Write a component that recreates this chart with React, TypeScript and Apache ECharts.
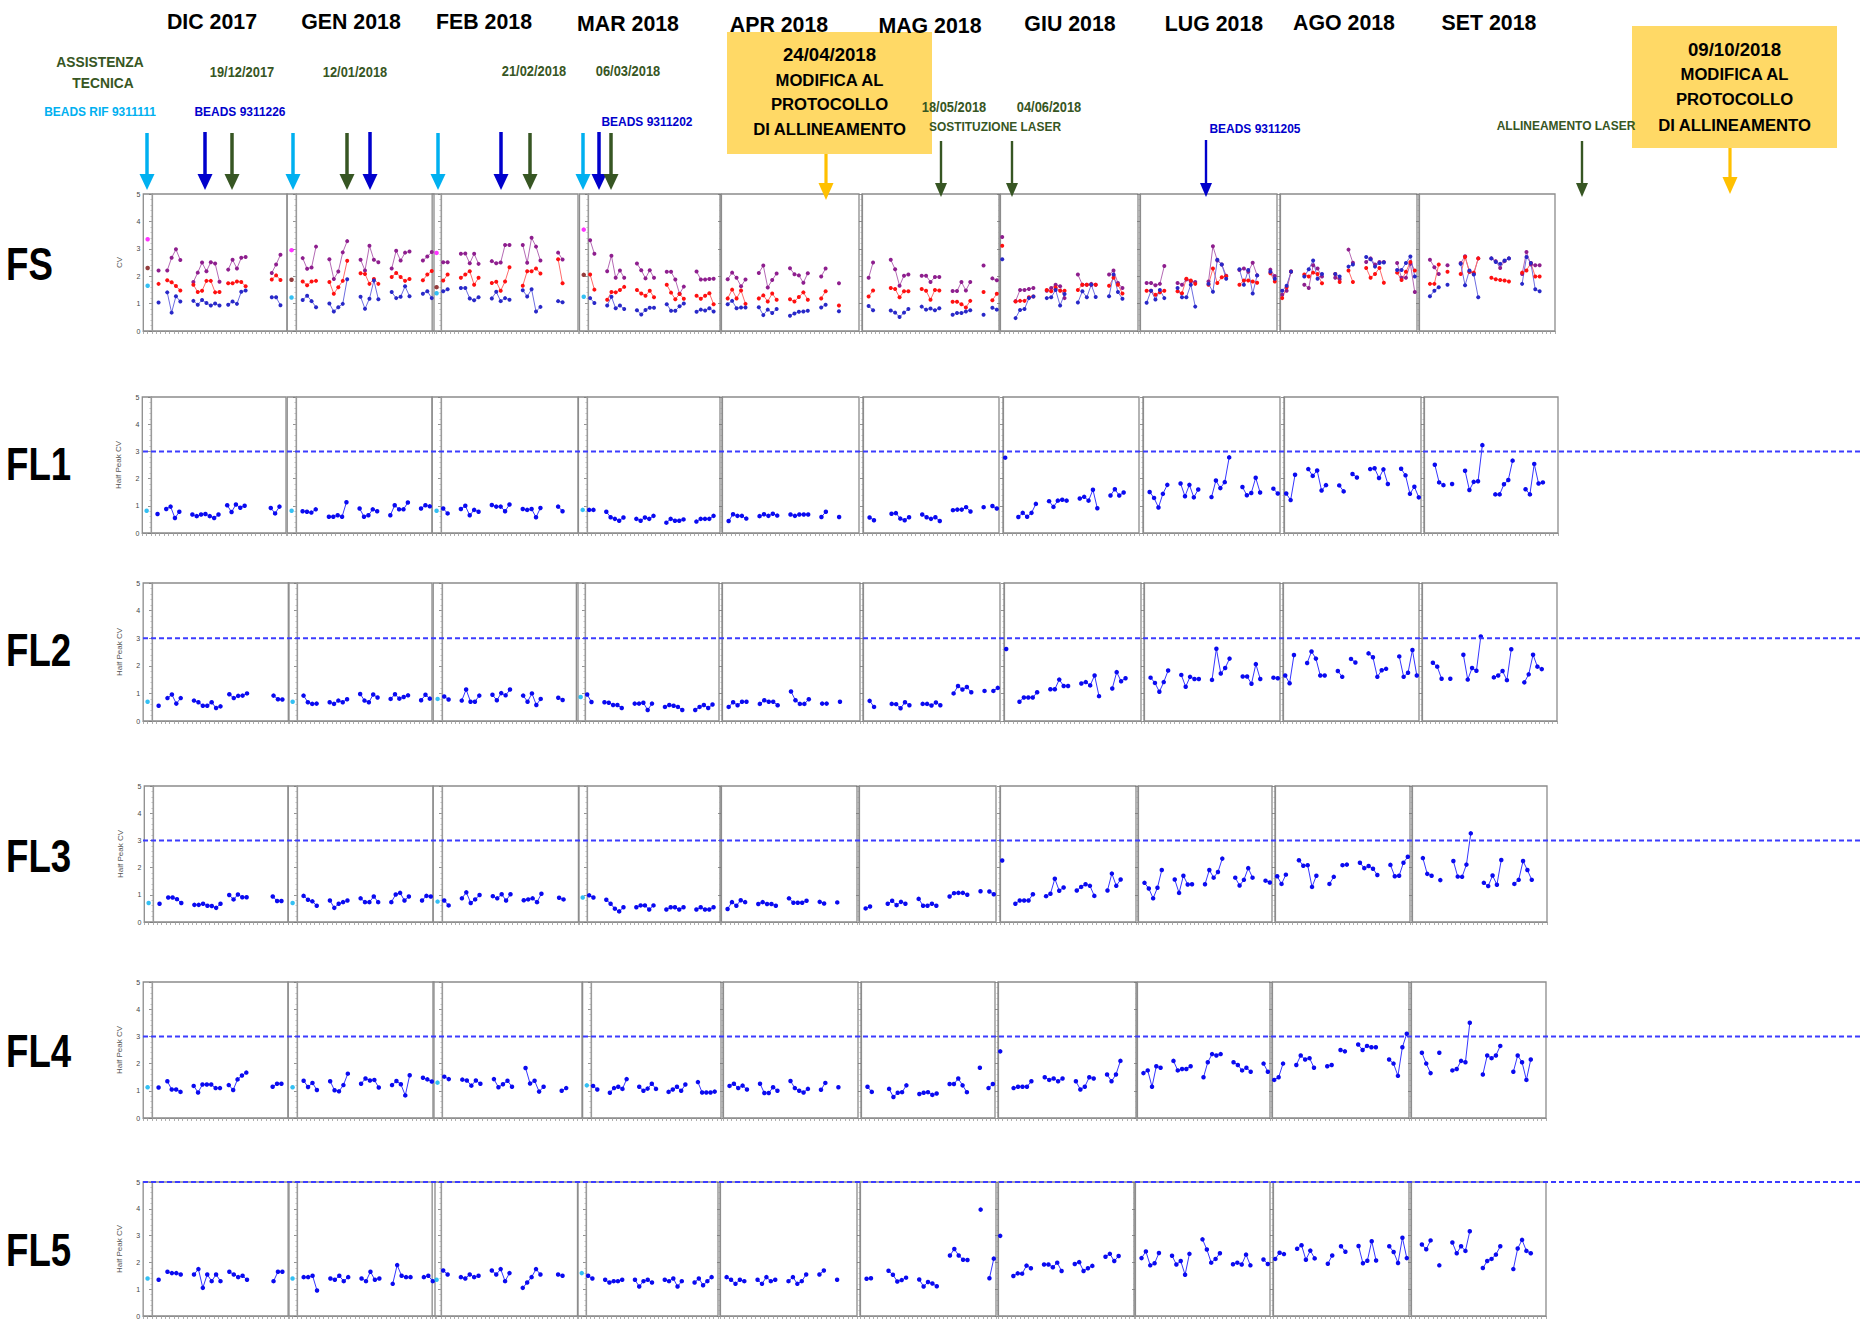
import React, { useEffect, useRef } from 'react';
import * as echarts from 'echarts';

const FONT = "'Liberation Sans', Arial, sans-serif";

const MONTHS = ['DIC 2017', 'GEN 2018', 'FEB 2018', 'MAR 2018', 'APR 2018', 'MAG 2018', 'GIU 2018', 'LUG 2018', 'AGO 2018', 'SET 2018'];
const ROW_NAMES = ['FS', 'FL1', 'FL2', 'FL3', 'FL4', 'FL5'];

// measurement days of each month
const DAYS = [
  [2, 4, 5, 6, 7, 10, 11, 12, 13, 14, 15, 16, 18, 19, 20, 21, 22, 28, 29, 30],
  [2, 3, 4, 5, 8, 9, 10, 11, 12, 15, 16, 17, 18, 19, 22, 23, 24, 25, 26, 29, 30, 31],
  [1, 2, 5, 6, 7, 8, 9, 12, 13, 14, 15, 16, 19, 20, 21, 22, 23, 27, 28],
  [1, 2, 5, 6, 7, 8, 9, 12, 13, 14, 15, 16, 19, 20, 21, 22, 23, 26, 27, 28, 29, 30],
  [2, 3, 4, 5, 6, 9, 10, 11, 12, 13, 16, 17, 18, 19, 20, 23, 24, 27],
  [2, 3, 7, 8, 9, 10, 11, 14, 15, 16, 17, 18, 21, 22, 23, 24, 25, 28, 30, 31],
  [1, 4, 5, 6, 7, 8, 11, 12, 13, 14, 15, 18, 19, 20, 21, 22, 25, 26, 27, 28],
  [2, 3, 4, 5, 6, 9, 10, 11, 12, 13, 16, 17, 18, 19, 20, 23, 24, 25, 26, 27, 30, 31],
  [1, 2, 3, 6, 7, 8, 9, 10, 13, 14, 16, 17, 20, 21, 22, 23, 24, 27, 28, 29, 30, 31],
  [3, 4, 5, 7, 10, 11, 12, 13, 14, 17, 18, 19, 20, 21, 24, 25, 26, 27, 28],
];

// FS CV (three series)
const FS_PURPLE = [
  [2.21, 2.21, 2.67, 2.98, 2.59, 1.79, 2.13, 2.5, 2.18, 2.51, 2.46, 1.8, 2.24, 2.6, 2.28, 2.67, 2.7, 2.12, 2.43, 2.78],
  [2.66, 2.27, 2.32, 3.08, 2.62, 1.9, 2.17, 2.87, 3.28, 2.6, 2.21, 3.11, 2.6, 2.51, 2.28, 2.93, 2.57, 2.86, 2.9, 2.57, 2.72, 2.88],
  [2.51, 2.51, 2.82, 2.83, 2.47, 2.82, 2.45, 2.55, 2.47, 2.5, 3.14, 3.14, 3.14, 2.49, 3.4, 3.08, 2.57, 2.86, 2.61],
  [3.31, 2.82, 2.18, 2.75, 1.94, 2.21, 1.94, 2.46, 2.22, 1.92, 2.22, 1.94, 2.16, 2.16, 1.88, 1.36, 1.62, 2.17, 1.88, 1.88, 1.9, 1.91],
  [1.89, 2.13, 1.94, 1.63, 1.88, 2.12, 2.39, 1.59, 1.86, 2.1, 2.29, 2.07, 2.03, 1.76, 2.11, 1.99, 2.28, 1.74],
  [1.94, 2.5, 2.6, 2.25, 1.65, 2.02, 2.06, 2.02, 2.02, 1.79, 1.97, 1.97, 1.46, 1.46, 1.79, 1.48, 1.79, 2.39, 1.92, 1.85],
  [3.43, 1.09, 1.5, 1.5, 1.53, 1.57, 1.47, 1.57, 1.69, 1.63, 1.2, 2.06, 1.69, 1.69, 1.72, 1.69, 2.06, 2.21, 1.75, 1.57],
  [1.75, 1.75, 1.67, 1.72, 2.37, 1.75, 1.69, 1.88, 1.81, 1.79, 1.81, 3.09, 2.57, 2.43, 2.02, 2.23, 2.28, 2.16, 2.49, 2.03, 2.24, 2.01],
  [1.32, 1.47, 2.18, 1.69, 1.57, 2.4, 2.28, 1.99, 1.94, 1.89, 2.97, 2.49, 2.52, 2.65, 2.43, 2.52, 2.52, 2.48, 1.94, 1.94, 2.45, 1.42],
  [2.6, 2.33, 2.08, 2.4, 2.48, 2.73, 2.16, 2.08, 2.65, 2.65, 2.55, 2.3, 2.55, 2.65, 2.08, 2.88, 2.43, 2.4, 2.4],
];
const FS_RED = [
  [1.72, 1.85, 1.78, 1.64, 1.48, 1.69, 1.42, 1.47, 1.83, 1.83, 1.41, 1.42, 1.74, 1.74, 1.81, 1.79, 1.63, 1.88, 2.03, 1.86],
  [1.81, 1.67, 1.81, 1.83, 1.79, 1.36, 1.6, 1.83, 2.56, 2.11, 2.08, 1.72, 1.9, 1.72, 1.97, 2.12, 1.97, 1.83, 1.9, 1.85, 2.06, 2.19],
  [1.84, 2.06, 1.94, 2.06, 2.18, 1.69, 1.94, 1.75, 1.8, 1.47, 1.81, 2.33, 1.65, 2.18, 2.18, 2.28, 2.1, 2.62, 1.74],
  [2.06, 1.51, 1.14, 1.42, 1.41, 1.5, 1.61, 1.5, 1.37, 1.29, 1.47, 1.23, 1.69, 1.4, 1.16, 1.35, 1.18, 1.29, 1.18, 1.29, 1.38, 0.98],
  [1.19, 1.51, 1.19, 1.48, 0.99, 1.19, 1.3, 1.08, 1.37, 1.14, 1.16, 1.08, 1.24, 1.41, 1.14, 1.19, 1.45, 0.93],
  [1.26, 1.48, 1.57, 1.53, 1.23, 1.45, 1.45, 1.53, 1.47, 1.14, 1.5, 1.48, 1.07, 1.07, 0.98, 0.86, 1.1, 1.42, 1.12, 1.36],
  [3.11, 1.08, 1.1, 1.1, 1.23, 1.26, 1.5, 1.45, 1.59, 1.47, 1.47, 1.5, 1.69, 1.69, 1.69, 1.69, 1.65, 1.94, 1.69, 1.37],
  [1.47, 1.47, 1.32, 1.41, 1.47, 1.45, 1.38, 1.91, 1.84, 1.72, 1.69, 2.28, 1.75, 1.96, 2.0, 1.69, 1.84, 1.84, 1.81, 1.76, 2.11, 1.81],
  [1.2, 1.6, 2.16, 2.06, 1.99, 2.13, 2.08, 1.74, 2.08, 1.79, 2.21, 1.79, 2.3, 1.94, 2.08, 2.3, 1.76, 2.13, 1.86, 2.16, 2.52, 2.21],
  [1.72, 1.72, 2.43, 2.16, 2.08, 2.7, 2.16, 2.13, 2.65, 1.94, 1.89, 1.86, 1.84, 1.81, 2.13, 2.21, 2.48, 1.99, 1.99],
];
const FS_BLUE = [
  [1.04, 1.41, 0.67, 1.27, 1.08, 1.1, 0.96, 1.13, 1.02, 0.93, 1.0, 0.93, 0.96, 1.08, 0.99, 1.43, 1.48, 1.23, 1.23, 0.94],
  [1.13, 1.29, 1.09, 0.87, 1.0, 0.71, 0.87, 0.99, 1.89, 1.25, 0.81, 1.18, 1.84, 1.16, 1.42, 1.2, 1.25, 1.63, 1.27, 1.36, 1.45, 1.2],
  [1.45, 1.52, 1.57, 1.57, 1.19, 1.12, 1.23, 1.19, 1.43, 1.09, 1.2, 1.14, 1.49, 1.26, 1.52, 0.71, 0.88, 1.09, 1.05],
  [1.2, 1.02, 0.93, 1.25, 0.83, 0.93, 0.8, 0.76, 0.6, 0.77, 0.85, 0.85, 0.98, 0.74, 0.74, 0.9, 1.0, 0.7, 0.78, 0.75, 0.83, 0.71],
  [0.98, 1.1, 0.83, 0.86, 0.86, 0.87, 0.58, 0.78, 0.66, 0.8, 0.56, 0.64, 0.7, 0.71, 0.74, 0.86, 0.96, 0.72],
  [0.91, 0.76, 0.75, 0.67, 0.51, 0.67, 0.8, 0.89, 0.78, 0.82, 0.76, 0.83, 0.59, 0.66, 0.66, 0.71, 0.76, 0.59, 0.85, 0.78],
  [2.62, 0.47, 0.77, 0.8, 1.2, 1.26, 1.2, 1.23, 1.5, 0.93, 1.35, 1.04, 1.45, 1.23, 1.69, 1.24, 1.27, 2.06, 1.42, 1.18],
  [1.03, 1.47, 1.15, 1.5, 1.2, 1.57, 1.23, 1.23, 1.69, 0.89, 1.72, 1.43, 2.6, 2.43, 1.91, 2.25, 1.69, 2.23, 1.37, 2.03, 2.16, 1.91],
  [1.47, 1.65, 2.16, 1.99, 2.25, 2.57, 1.91, 2.08, 2.08, 1.99, 2.35, 2.43, 2.7, 2.62, 2.35, 2.48, 2.5, 2.23, 2.23, 2.48, 2.72, 1.99],
  [1.27, 1.47, 1.6, 1.69, 2.45, 1.67, 2.21, 2.06, 1.23, 2.65, 2.52, 2.45, 2.57, 2.65, 1.72, 2.7, 2.48, 1.52, 1.45],
];
const FS_REF_MAGENTA = [3.35, 2.95, 2.85, 3.7];
const FS_REF_BROWN = [2.3, 1.87, 1.6, 2.05];
const FS_REF_CYAN = [1.65, 1.22, 1.38, 1.25];

// Half Peak CV
const FL1 = [
  [0.7, 0.88, 0.97, 0.55, 0.78, 0.68, 0.62, 0.68, 0.7, 0.62, 0.55, 0.68, 1.02, 0.77, 1.05, 0.93, 1.0, 0.92, 0.72, 0.97],
  [0.8, 0.78, 0.75, 0.87, 0.6, 0.6, 0.65, 0.6, 1.13, 0.9, 0.6, 0.65, 0.87, 0.8, 0.65, 1.02, 0.87, 0.87, 1.12, 0.9, 1.02, 0.98],
  [0.9, 0.72, 0.88, 1.0, 0.65, 0.85, 0.78, 1.03, 0.97, 0.97, 0.8, 1.05, 0.88, 0.85, 0.88, 0.58, 0.92, 0.97, 0.8],
  [0.85, 0.85, 0.78, 0.58, 0.52, 0.45, 0.57, 0.52, 0.45, 0.57, 0.52, 0.63, 0.38, 0.52, 0.45, 0.45, 0.5, 0.42, 0.52, 0.52, 0.52, 0.63],
  [0.44, 0.69, 0.63, 0.63, 0.53, 0.62, 0.69, 0.63, 0.71, 0.64, 0.68, 0.63, 0.68, 0.68, 0.68, 0.59, 0.78, 0.59],
  [0.57, 0.47, 0.71, 0.73, 0.53, 0.47, 0.58, 0.68, 0.58, 0.52, 0.58, 0.44, 0.84, 0.86, 0.86, 0.95, 0.79, 0.95, 0.99, 0.9],
  [2.77, 0.59, 0.74, 0.6, 0.74, 1.07, 1.17, 0.96, 1.19, 1.22, 1.19, 1.27, 1.33, 1.19, 1.59, 0.91, 1.38, 1.61, 1.38, 1.49],
  [1.51, 1.29, 0.94, 1.44, 1.77, 1.82, 1.35, 1.77, 1.31, 1.6, 1.32, 1.93, 1.65, 1.87, 2.78, 1.69, 1.39, 1.47, 2.03, 1.49, 1.63, 1.45],
  [1.45, 1.21, 2.14, 2.35, 2.1, 2.3, 1.56, 1.76, 1.75, 1.53, 2.17, 2.04, 2.35, 2.38, 2.02, 2.34, 1.8, 2.36, 2.12, 1.44, 1.7, 1.31],
  [2.51, 1.86, 1.76, 1.8, 2.29, 1.58, 1.88, 1.9, 3.23, 1.42, 1.42, 1.79, 1.95, 2.66, 1.61, 1.42, 2.54, 1.82, 1.86],
];
const FL2 = [
  [0.55, 0.83, 0.96, 0.63, 0.83, 0.74, 0.68, 0.55, 0.55, 0.68, 0.47, 0.53, 0.97, 0.83, 0.91, 0.92, 1.0, 0.92, 0.79, 0.78],
  [0.92, 0.68, 0.62, 0.63, 0.68, 0.62, 0.74, 0.68, 0.79, 0.98, 0.74, 0.68, 0.96, 0.85, 0.8, 0.97, 0.81, 0.87, 0.93, 0.75, 0.95, 0.81],
  [0.89, 0.78, 0.74, 1.14, 0.7, 0.7, 0.92, 0.95, 0.75, 1.01, 0.93, 1.14, 0.92, 0.7, 1.0, 0.58, 0.8, 0.84, 0.76],
  [0.96, 0.69, 0.68, 0.66, 0.58, 0.58, 0.47, 0.63, 0.63, 0.66, 0.4, 0.63, 0.51, 0.58, 0.55, 0.51, 0.4, 0.4, 0.51, 0.58, 0.47, 0.6],
  [0.51, 0.68, 0.57, 0.7, 0.7, 0.62, 0.75, 0.7, 0.7, 0.57, 1.07, 0.75, 0.62, 0.62, 0.79, 0.63, 0.63, 0.7],
  [0.73, 0.51, 0.62, 0.61, 0.46, 0.68, 0.57, 0.62, 0.62, 0.56, 0.67, 0.57, 1.0, 1.27, 1.14, 1.23, 1.04, 1.09, 1.09, 1.2],
  [2.61, 0.7, 0.85, 0.85, 0.85, 1.04, 1.15, 1.15, 1.5, 1.27, 1.27, 1.36, 1.41, 1.29, 1.65, 0.9, 1.18, 1.77, 1.44, 1.55],
  [1.57, 1.38, 1.06, 1.41, 1.83, 1.67, 1.24, 1.6, 1.52, 1.52, 1.49, 2.62, 1.72, 1.92, 2.26, 1.61, 1.61, 1.35, 2.06, 1.52, 1.57, 1.55],
  [1.65, 1.37, 2.39, 2.1, 2.52, 2.26, 1.65, 1.65, 1.81, 1.6, 2.25, 2.12, 2.45, 2.31, 1.6, 1.84, 1.89, 2.34, 1.6, 1.75, 2.57, 1.65],
  [2.11, 1.97, 1.53, 1.53, 2.4, 1.5, 1.92, 1.82, 3.06, 1.58, 1.65, 1.81, 1.48, 2.6, 1.4, 1.69, 2.4, 1.97, 1.88],
];
const FL3 = [
  [0.67, 0.9, 0.9, 0.84, 0.7, 0.63, 0.63, 0.67, 0.6, 0.59, 0.52, 0.67, 0.99, 0.83, 1.01, 0.91, 0.91, 0.94, 0.77, 0.77],
  [0.96, 0.82, 0.76, 0.6, 0.79, 0.52, 0.67, 0.73, 0.79, 0.87, 0.73, 0.73, 0.94, 0.73, 0.73, 1.01, 1.07, 0.79, 0.94, 0.79, 0.96, 0.94],
  [0.79, 0.61, 0.87, 1.09, 0.7, 0.83, 0.99, 0.95, 0.87, 1.02, 0.79, 1.02, 0.8, 0.83, 0.87, 0.73, 1.04, 0.89, 0.83],
  [0.98, 0.9, 0.82, 0.67, 0.49, 0.39, 0.54, 0.54, 0.61, 0.61, 0.46, 0.61, 0.46, 0.54, 0.54, 0.46, 0.54, 0.46, 0.54, 0.46, 0.46, 0.54],
  [0.48, 0.73, 0.6, 0.8, 0.73, 0.66, 0.73, 0.66, 0.66, 0.6, 0.87, 0.71, 0.71, 0.71, 0.78, 0.74, 0.68, 0.72],
  [0.5, 0.57, 0.67, 0.78, 0.62, 0.74, 0.67, 0.85, 0.6, 0.6, 0.67, 0.6, 0.94, 1.06, 1.07, 1.07, 1.0, 1.13, 1.12, 1.02],
  [2.26, 0.67, 0.79, 0.79, 0.79, 1.02, 0.95, 1.04, 1.59, 1.15, 1.27, 1.16, 1.29, 1.39, 1.33, 0.96, 1.16, 1.78, 1.33, 1.56],
  [1.44, 1.23, 0.87, 1.26, 1.91, 1.56, 1.07, 1.7, 1.38, 1.39, 1.39, 1.91, 1.63, 1.84, 2.33, 1.63, 1.34, 1.55, 1.98, 1.63, 1.52, 1.45],
  [1.68, 1.4, 1.74, 2.27, 2.07, 2.09, 1.29, 1.7, 1.4, 1.66, 2.09, 2.11, 2.18, 1.98, 2.06, 1.96, 1.73, 2.1, 1.68, 1.7, 2.18, 2.4],
  [2.35, 1.77, 1.7, 1.54, 2.24, 1.67, 1.66, 2.11, 3.26, 1.44, 1.32, 1.71, 1.37, 2.28, 1.4, 1.55, 2.24, 1.91, 1.55],
];
const FL4 = [
  [1.12, 1.35, 1.05, 1.05, 0.96, 1.18, 0.94, 1.23, 1.23, 1.23, 1.1, 1.1, 1.21, 1.03, 1.42, 1.56, 1.67, 1.15, 1.26, 1.26],
  [1.37, 1.14, 1.29, 1.03, 1.35, 1.02, 0.98, 1.21, 1.63, 1.26, 1.45, 1.38, 1.4, 1.12, 1.21, 1.36, 1.24, 0.83, 1.57, 1.48, 1.42, 1.34],
  [1.52, 1.43, 1.41, 1.38, 1.19, 1.38, 1.26, 1.43, 1.13, 1.24, 1.37, 1.15, 1.84, 1.27, 1.37, 0.97, 1.15, 1.0, 1.1],
  [1.18, 1.05, 0.93, 1.1, 1.15, 1.07, 1.43, 1.15, 1.0, 1.08, 1.26, 1.07, 0.96, 1.05, 1.15, 1.0, 1.23, 1.32, 0.94, 0.94, 0.94, 0.97],
  [1.18, 1.26, 1.1, 1.19, 1.05, 1.26, 0.92, 0.92, 1.13, 1.0, 1.36, 1.1, 1.0, 0.94, 1.07, 1.04, 1.29, 1.13],
  [1.15, 0.96, 1.07, 0.77, 0.93, 0.95, 1.2, 0.88, 0.93, 0.95, 0.85, 0.9, 1.25, 1.25, 1.45, 1.2, 0.95, 1.85, 1.1, 1.25],
  [2.45, 1.1, 1.15, 1.15, 1.15, 1.35, 1.5, 1.4, 1.45, 1.35, 1.45, 1.35, 1.05, 1.15, 1.5, 1.45, 1.6, 1.35, 1.6, 2.1],
  [1.65, 1.75, 1.15, 1.9, 1.85, 2.1, 1.75, 1.8, 1.8, 1.9, 1.5, 2.05, 2.35, 2.3, 2.35, 2.05, 1.95, 1.75, 1.85, 1.7, 2.0, 1.7],
  [1.4, 1.5, 2.0, 1.95, 2.3, 2.15, 2.2, 1.85, 1.9, 1.95, 2.5, 2.45, 2.7, 2.5, 2.65, 2.6, 2.6, 2.15, 2.0, 1.55, 2.6, 3.1],
  [2.4, 2.0, 1.65, 2.4, 1.75, 1.8, 2.1, 2.05, 3.5, 1.6, 2.3, 2.2, 2.3, 2.65, 1.7, 2.3, 2.05, 1.4, 2.15],
];
const FL5 = [
  [1.35, 1.65, 1.6, 1.6, 1.55, 1.55, 1.75, 1.05, 1.55, 1.3, 1.55, 1.3, 1.65, 1.55, 1.45, 1.5, 1.35, 1.3, 1.65, 1.65],
  [1.45, 1.45, 1.5, 0.95, 1.4, 1.35, 1.5, 1.3, 1.45, 1.4, 1.3, 1.65, 1.35, 1.4, 1.2, 1.9, 1.5, 1.45, 1.45, 1.45, 1.5, 1.3],
  [1.7, 1.55, 1.45, 1.4, 1.55, 1.45, 1.5, 1.7, 1.55, 1.75, 1.3, 1.6, 1.05, 1.25, 1.45, 1.75, 1.55, 1.55, 1.5],
  [1.5, 1.4, 1.35, 1.25, 1.3, 1.3, 1.35, 1.35, 1.1, 1.3, 1.35, 1.25, 1.35, 1.3, 1.4, 1.1, 1.3, 1.25, 1.4, 1.15, 1.3, 1.45],
  [1.45, 1.35, 1.2, 1.35, 1.3, 1.35, 1.2, 1.45, 1.3, 1.35, 1.3, 1.45, 1.2, 1.3, 1.55, 1.55, 1.7, 1.35],
  [1.39, 1.41, 1.69, 1.54, 1.29, 1.34, 1.43, 1.36, 1.1, 1.27, 1.21, 1.11, 2.26, 2.5, 2.26, 2.1, 2.09, 3.97, 1.41, 2.14],
  [2.99, 1.49, 1.59, 1.58, 1.88, 1.78, 1.92, 1.92, 1.82, 1.99, 1.68, 1.94, 2.01, 1.68, 1.78, 1.87, 2.21, 2.32, 2.05, 2.24],
  [2.16, 2.41, 1.89, 1.97, 2.35, 2.25, 1.92, 2.05, 1.54, 2.32, 2.86, 2.48, 1.99, 2.13, 2.34, 1.93, 1.99, 1.92, 2.29, 1.89, 2.11, 1.94],
  [2.13, 2.36, 2.31, 2.51, 2.64, 2.1, 2.44, 2.15, 1.95, 2.26, 2.6, 2.4, 2.61, 1.97, 2.06, 2.79, 2.07, 2.6, 2.39, 1.98, 2.92, 2.16],
  [2.67, 2.49, 2.82, 1.89, 2.74, 2.34, 2.6, 2.43, 3.16, 1.79, 2.05, 2.13, 2.29, 2.6, 1.75, 2.52, 2.84, 2.43, 2.34],
];
const FL_REF = [
  [0.82, 0.82, 0.82, 0.85],
  [0.7, 0.7, 0.8, 0.87],
  [0.7, 0.7, 0.75, 0.9],
  [1.13, 1.13, 1.3, 1.2],
  [1.4, 1.4, 1.35, 1.6],
];
const FL_LIMIT = [3, 3, 3, 3, 5];

// ---- layout (pixels) ----
const ROW_Y = [[194, 331], [397, 533], [583, 721], [786, 922], [982, 1118], [1182, 1316]];
const ROW_LABEL_Y = [264, 464, 650, 856, 1051, 1250];
const BOX_X = [
  [[152, 287], [296, 434], [441, 578], [588, 720], [721, 859], [862, 999], [1000, 1138], [1140, 1277], [1280, 1417], [1419, 1555]],
  [[151, 286], [296, 432], [441, 578], [587, 720], [722, 859], [863, 999], [1003, 1139], [1143, 1280], [1284, 1421], [1424, 1558]],
  [[152, 289], [297, 432], [442, 578], [585, 719], [722, 860], [863, 1000], [1004, 1141], [1144, 1280], [1283, 1419], [1422, 1557]],
  [[153, 288], [297, 433], [442, 579], [587, 720], [721, 857], [859, 996], [1000, 1136], [1138, 1272], [1275, 1410], [1412, 1547]],
  [[152, 288], [297, 434], [442, 582], [591, 721], [723, 858], [861, 995], [998, 1136], [1137, 1270], [1272, 1409], [1411, 1546]],
  [[152, 289], [297, 435], [441, 578], [586, 718], [720, 857], [860, 996], [998, 1134], [1135, 1270], [1273, 1409], [1411, 1546]],
];

const GREEN = '#375623';
const LBLUE = '#00B0F0';
const DBLUE = '#0000CC';
const YEL = '#FFC000';

const MONTH_LABEL_POS = [[212, 21], [351, 21], [484, 21], [628, 23], [779, 24], [930, 25], [1070, 23], [1214, 23], [1344, 22], [1489, 22]];

const NOTES = [
  ['ASSISTENZA', 100, 62, GREEN, 15],
  ['TECNICA', 103, 83, GREEN, 15],
  ['19/12/2017', 242, 72, GREEN, 14],
  ['12/01/2018', 355, 72, GREEN, 14],
  ['21/02/2018', 534, 71, GREEN, 14],
  ['06/03/2018', 628, 71, GREEN, 14],
  ['BEADS RIF 9311111', 100, 112, LBLUE, 13],
  ['BEADS 9311226', 240, 112, DBLUE, 13],
  ['BEADS 9311202', 647, 122, DBLUE, 13],
  ['18/05/2018', 954, 107, GREEN, 14],
  ['04/06/2018', 1049, 107, GREEN, 14],
  ['SOSTITUZIONE LASER', 995, 127, GREEN, 13],
  ['BEADS 9311205', 1255, 129, DBLUE, 13],
  ['ALLINEAMENTO LASER', 1566, 126, GREEN, 13],
];

// x, yStart, yTip, color, shaft width, head width, head height
const ARROWS = [
  [147, 133, 190, LBLUE, 3.5, 15, 16], [293, 133, 190, LBLUE, 3.5, 15, 16], [438, 133, 190, LBLUE, 3.5, 15, 16], [583, 133, 190, LBLUE, 3.5, 15, 16],
  [205, 132, 190, DBLUE, 3.5, 15, 16], [370, 132, 190, DBLUE, 3.5, 15, 16], [501, 132, 190, DBLUE, 3.5, 15, 16], [599, 132, 190, DBLUE, 3.5, 15, 16],
  [232, 133, 190, GREEN, 3.5, 15, 16], [347, 133, 190, GREEN, 3.5, 15, 16], [530, 133, 190, GREEN, 3.5, 15, 16], [611, 133, 190, GREEN, 3.5, 15, 16],
  [941, 141, 197, GREEN, 2.4, 12, 14], [1012, 141, 197, GREEN, 2.4, 12, 14], [1582, 141, 197, GREEN, 2.4, 12, 14],
  [1206, 140, 197, DBLUE, 2.4, 12, 14],
  [826, 154, 200, YEL, 3.2, 15, 17], [1730, 148, 194, YEL, 3.2, 15, 17],
];

const BOXES = [
  { x: 727, y: 32, w: 205, h: 122, lines: ['24/04/2018', 'MODIFICA AL', 'PROTOCOLLO', 'DI ALLINEAMENTO'], ys: [54, 80, 104, 129] },
  { x: 1632, y: 26, w: 205, h: 122, lines: ['09/10/2018', 'MODIFICA AL', 'PROTOCOLLO', 'DI ALLINEAMENTO'], ys: [49, 74, 99, 125] },
];

function runs(days: number[], vals: number[]) {
  const out: any[] = [];
  const n = Math.min(days.length, vals.length);
  for (let i = 0; i < n; i++) {
    if (i > 0 && days[i] - days[i - 1] > 1) out.push([days[i] - 1, '-']);
    out.push([days[i] - 0.5, vals[i]]);
  }
  return out;
}

function buildOption() {
  const grid: any[] = [];
  const xAxis: any[] = [];
  const yAxis: any[] = [];
  const series: any[] = [];
  const FL = [FL1, FL2, FL3, FL4, FL5];

  for (let r = 0; r < 6; r++) {
    const [top, bottom] = ROW_Y[r];
    for (let m = 0; m < 10; m++) {
      const [x0, x1] = BOX_X[r][m];
      const slot = (x1 - x0) / 31;
      const hasRef = m < 4;
      const xmin = hasRef ? -2 : 0;
      const left = x0 + xmin * slot;
      grid.push({ left, top, width: x1 - left, height: bottom - top, show: true, borderColor: '#8c8c8c', borderWidth: 1.3, backgroundColor: 'transparent' });
      const gi = grid.length - 1;
      xAxis.push({
        gridIndex: gi, type: 'value', min: xmin, max: 31, interval: 1,
        axisLine: { show: true, lineStyle: { color: '#8c8c8c', width: 1.2 } },
        axisTick: { show: true, length: 3, lineStyle: { color: '#9a9a9a', width: 0.8 } },
        axisLabel: { show: false }, splitLine: { show: false },
      });
      yAxis.push({
        gridIndex: gi, type: 'value', min: 0, max: 5, interval: 1,
        axisLine: { show: true, lineStyle: { color: '#8c8c8c', width: 1.2 } },
        axisTick: { show: true, length: 3, lineStyle: { color: '#777', width: 0.8 } },
        minorTick: { show: true, splitNumber: 5, length: 1.5, lineStyle: { color: '#999', width: 0.6 } },
        axisLabel: { show: m === 0, fontSize: 7, color: '#444', margin: 3, fontFamily: FONT },
        splitLine: { show: false },
        name: m === 0 ? (r === 0 ? 'CV' : 'Half Peak CV') : '',
        nameLocation: 'middle', nameGap: 20,
        nameTextStyle: { fontSize: 8, color: '#555', fontFamily: FONT },
      });
      if (hasRef) {
        series.push({
          type: 'line', xAxisIndex: gi, yAxisIndex: gi, data: [[0, 0], [0, 5]], symbol: 'none', silent: true,
          lineStyle: { color: '#a8a8a8', width: 1 }, z: 1,
        });
      }
      const days = DAYS[m];
      if (r === 0) {
        const defs = [
          [FS_PURPLE, '#8E1E8E', '#B46AB4'],
          [FS_RED, '#FF1010', '#FF6A6A'],
          [FS_BLUE, '#2828C8', '#6E6EE0'],
        ];
        for (const [arr, c, lc] of defs as any) {
          series.push({
            type: 'line', xAxisIndex: gi, yAxisIndex: gi, data: runs(days, arr[m]),
            symbol: 'circle', symbolSize: 4, showSymbol: true,
            itemStyle: { color: c }, lineStyle: { color: lc, width: 1 }, z: 3,
          });
        }
        if (hasRef) {
          const refs = [[FS_REF_MAGENTA, '#FF00FF'], [FS_REF_BROWN, '#7A0C0C'], [FS_REF_CYAN, LBLUE]];
          for (const [arr, c] of refs as any) {
            series.push({ type: 'scatter', xAxisIndex: gi, yAxisIndex: gi, data: [[-1, arr[m]]], symbolSize: 4.5, itemStyle: { color: c }, z: 4 });
          }
        }
      } else {
        series.push({
          type: 'line', xAxisIndex: gi, yAxisIndex: gi, data: runs(days, FL[r - 1][m]),
          symbol: 'circle', symbolSize: 4.5, showSymbol: true,
          itemStyle: { color: '#0a0af0' }, lineStyle: { color: '#3535ff', width: 1 }, z: 3,
        });
        if (hasRef) {
          series.push({ type: 'scatter', xAxisIndex: gi, yAxisIndex: gi, data: [[-1, FL_REF[r - 1][m]]], symbolSize: 4.5, itemStyle: { color: LBLUE }, z: 4 });
        }
      }
    }
  }

  // dashed limit lines spanning each FL row
  for (let r = 1; r < 6; r++) {
    const [top, bottom] = ROW_Y[r];
    grid.push({ left: 143, top, width: 1862 - 143, height: bottom - top, show: false });
    const gi = grid.length - 1;
    xAxis.push({ gridIndex: gi, type: 'value', min: 0, max: 1, show: false });
    yAxis.push({ gridIndex: gi, type: 'value', min: 0, max: 5, show: false });
    const lim = FL_LIMIT[r - 1];
    series.push({
      type: 'line', xAxisIndex: gi, yAxisIndex: gi, data: [[0, lim], [1, lim]], symbol: 'none', silent: true, clip: false,
      lineStyle: { color: '#3c3cff', width: 2, type: [5, 3] }, z: 5,
    });
  }

  const elements: any[] = [];
  const txt = (text: string, x: number, y: number, fill: string, size: number, extra: any = {}) => ({
    type: 'text', x, y, z: 10, ...extra,
    style: { text, fill, fontSize: size, fontWeight: 'bold', fontFamily: FONT, align: extra.align || 'center', verticalAlign: 'middle' },
  });

  ROW_NAMES.forEach((n, i) => elements.push(txt(n, 6, ROW_LABEL_Y[i], '#000', 47, { align: 'left', scaleX: 0.78 })));
  MONTHS.forEach((mo, i) => elements.push(txt(mo, MONTH_LABEL_POS[i][0], MONTH_LABEL_POS[i][1], '#000', 22, { scaleX: 0.97 })));
  NOTES.forEach((n: any) => elements.push(txt(n[0], n[1], n[2], n[3], n[4], { scaleX: 0.92 })));

  BOXES.forEach((b) => {
    elements.push({ type: 'rect', shape: { x: b.x, y: b.y, width: b.w, height: b.h }, style: { fill: '#FFD966' }, z: 8 });
    b.lines.forEach((l, i) => elements.push(txt(l, b.x + b.w / 2, b.ys[i], '#000', i === 0 ? 19 : 17, { scaleX: 0.98 })));
  });

  ARROWS.forEach((a: any) => {
    const [x, y0, tip, color, w, hw, hh] = a;
    elements.push({ type: 'line', shape: { x1: x, y1: y0, x2: x, y2: tip - hh + 1 }, style: { stroke: color, lineWidth: w }, z: 9 });
    elements.push({ type: 'polygon', shape: { points: [[x - hw / 2, tip - hh], [x + hw / 2, tip - hh], [x, tip]] }, style: { fill: color }, z: 9 });
  });

  return {
    animation: false,
    backgroundColor: '#ffffff',
    textStyle: { fontFamily: FONT },
    grid, xAxis, yAxis, series,
    graphic: { elements },
  };
}

export default function App() {
  const ref = useRef<HTMLDivElement>(null);
  useEffect(() => {
    const chart = echarts.init(ref.current as HTMLDivElement, null, { renderer: 'svg' });
    chart.setOption(buildOption() as any);
    return () => chart.dispose();
  }, []);
  return <div ref={ref} style={{ position: 'absolute', left: 0, top: 0, width: 1864, height: 1321, background: '#fff' }} />;
}
